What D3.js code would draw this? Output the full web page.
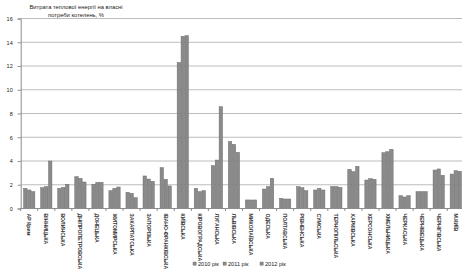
<!DOCTYPE html>
<html>
<head>
<meta charset="utf-8">
<script src="https://cdnjs.cloudflare.com/ajax/libs/d3/7.8.5/d3.min.js"></script>
<style>
  html, body { margin: 0; padding: 0; background: #fff; }
  svg { display: block; font-family: "Liberation Sans", Arial, sans-serif; }
</style>
</head>
<body>
<svg id="chart" width="462" height="275"></svg>
<script>
// Regions of Ukraine
const regions = [
  "АР Крим", "ВІННИЦЬКА", "ВОЛИНСЬКА", "ДНІПРОПЕТРОВСЬКА", "ДОНЕЦЬКА",
  "ЖИТОМИРСЬКА", "ЗАКАРПАТСЬКА", "ЗАПОРІЗЬКА", "ІВАНО-ФРАНКІВСЬКА", "КИЇВСЬКА",
  "КІРОВОГРАДСЬКА", "ЛУГАНСЬКА", "ЛЬВІВСЬКА", "МИКОЛАЇВСЬКА", "ОДЕСЬКА",
  "ПОЛТАВСЬКА", "РІВНЕНСЬКА", "СУМСЬКА", "ТЕРНОПІЛЬСЬКА", "ХАРКІВСЬКА",
  "ХЕРСОНСЬКА", "ХМЕЛЬНИЦЬКА", "ЧЕРКАСЬКА", "ЧЕРНІВЕЦЬКА", "ЧЕРНІГІВСЬКА", "М.КИЇВ"
];

// Heat consumption for boiler-house own needs, %
const values2010 = [1.70, 1.75, 1.70, 2.68, 2.04, 1.50, 1.36, 2.74, 3.44, 12.30,
  1.70, 3.61, 5.63, 0.72, 1.64, 0.86, 1.84, 1.56, 1.84, 3.30,
  2.40, 4.70, 1.08, 1.42, 3.24, 2.90];
const values2011 = [1.56, 1.84, 1.78, 2.54, 2.20, 1.70, 1.28, 2.48, 2.46, 14.50,
  1.42, 4.08, 5.40, 0.72, 1.84, 0.80, 1.75, 1.70, 1.84, 3.10,
  2.51, 4.78, 0.97, 1.42, 3.33, 3.18];
const values2012 = [1.42, 4.00, 2.04, 2.23, 2.20, 1.81, 0.91, 2.29, 1.90, 14.55,
  1.50, 8.57, 4.73, 0.72, 2.54, 0.80, 1.50, 1.56, 1.78, 3.55,
  2.46, 4.98, 1.08, 1.42, 2.80, 3.13];

const seriesNames = ["2010 рік", "2011 рік", "2012 рік"];
const yTicks = [0, 2, 4, 6, 8, 10, 12, 14, 16];

const series = [values2010, values2011, values2012];

const svg = d3.select("#chart");
const plotLeft = 20.7, plotRight = 464.3, plotTop = 18.5, plotBottom = 208.5;

const x = d3.scaleBand().domain(regions).range([plotLeft, plotRight])
  .paddingInner(0.31).paddingOuter(0.155);
const xs = d3.scaleBand().domain(d3.range(series.length)).range([0, x.bandwidth()]);
const y = d3.scaleLinear().domain([0, 16]).range([plotBottom, plotTop]);

// Horizontal gridlines
svg.append("g")
  .selectAll("line")
  .data(yTicks.filter(t => t > 0))
  .join("line")
  .attr("x1", plotLeft).attr("x2", 462)
  .attr("y1", d => y(d)).attr("y2", d => y(d))
  .attr("stroke", "#bdbdbd").attr("stroke-width", 1);

// Y axis
const yAxis = svg.append("g")
  .attr("transform", `translate(${plotLeft},0)`)
  .call(d3.axisLeft(y).tickValues(yTicks).tickSize(3).tickPadding(5).tickFormat(d3.format("d")));
yAxis.select(".domain").attr("stroke", "#8c8c8c");
yAxis.selectAll(".tick line").attr("stroke", "#8c8c8c");
yAxis.selectAll("text").attr("font-size", 5.5).attr("fill", "#222");

// Bars
const groups = svg.append("g")
  .selectAll("g")
  .data(regions)
  .join("g")
  .attr("transform", d => `translate(${x(d)},0)`);

groups.selectAll("rect")
  .data((d, i) => series.map((s, k) => ({ k, v: s[i] })))
  .join("rect")
  .attr("x", d => xs(d.k) + 0.25)
  .attr("width", xs.bandwidth() - 0.5)
  .attr("y", d => y(d.v))
  .attr("height", d => plotBottom - y(d.v))
  .attr("fill", "#8a8a8a")
  .attr("stroke", "#6f6f6f")
  .attr("stroke-width", 0.5);

// X axis with ticks at category boundaries
const xAxisG = svg.append("g").attr("transform", `translate(0,${plotBottom})`);
xAxisG.append("line")
  .attr("x1", plotLeft).attr("x2", 462)
  .attr("stroke", "#8c8c8c");
const step = x.step();
xAxisG.selectAll("line.tick")
  .data(d3.range(regions.length + 1))
  .join("line")
  .attr("class", "tick")
  .attr("x1", i => plotLeft + i * step).attr("x2", i => plotLeft + i * step)
  .attr("y1", 0).attr("y2", 2.5)
  .attr("stroke", "#8c8c8c");

xAxisG.selectAll("text")
  .data(regions)
  .join("text")
  .attr("transform", d => `translate(${x(d) + x.bandwidth() / 2 - 2},5) rotate(90)`)
  .attr("text-anchor", "start")
  .attr("font-size", 5.2)
  .attr("font-weight", "bold")
  .attr("fill", "#333")
  .text(d => d);

// Title
const title = svg.append("text")
  .attr("x", 76).attr("y", 8.5)
  .attr("text-anchor", "middle")
  .attr("font-size", 5.8)
  .attr("fill", "#222");
title.append("tspan").attr("x", 76).attr("dy", 0).text("Витрата теплової енергії на власні");
title.append("tspan").attr("x", 76).attr("dy", 8).text("потреби котелень, %");

// Legend
const legend = svg.append("g").attr("transform", "translate(193,265)");
const legendX = [0, 30, 67];
seriesNames.forEach((name, k) => {
  const g = legend.append("g").attr("transform", `translate(${legendX[k]},0)`);
  g.append("rect").attr("x", 0).attr("y", -3).attr("width", 3.2).attr("height", 3.2)
    .attr("fill", "#8a8a8a").attr("stroke", "#6f6f6f").attr("stroke-width", 0.4);
  g.append("text").attr("x", 5).attr("y", 0.6)
    .attr("font-size", 5.6).attr("fill", "#222").text(name);
});
</script>
</body>
</html>
